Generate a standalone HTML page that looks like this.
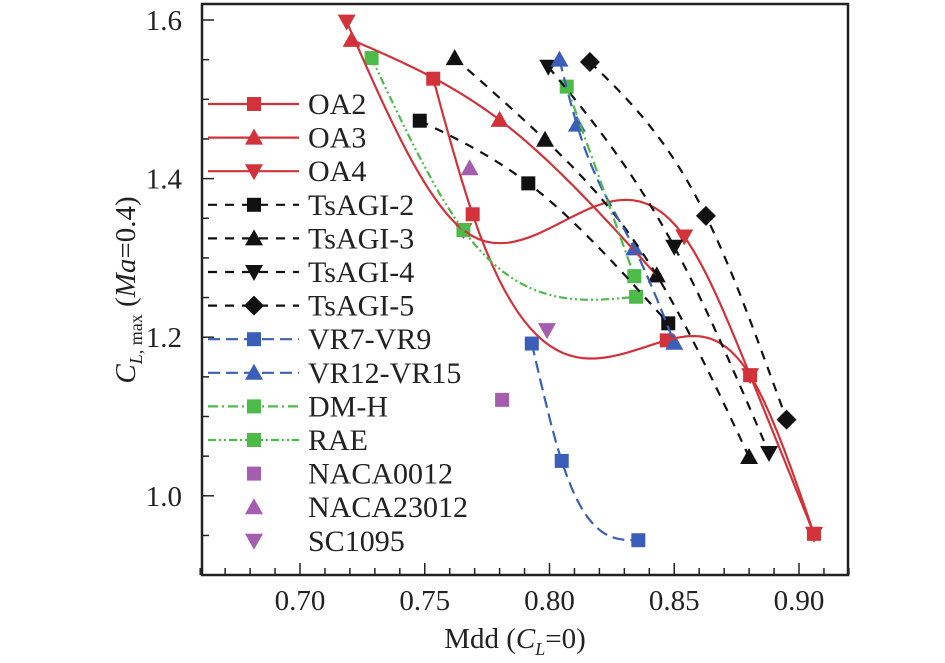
<!DOCTYPE html>
<html><head><meta charset="utf-8"><style>
html,body{margin:0;padding:0;background:#fff;}
svg{display:block;font-family:"Liberation Serif",serif;}
</style></head><body>
<svg id="chart" width="945" height="663" viewBox="0 0 945 663" xmlns="http://www.w3.org/2000/svg"></svg>
<script>
const xTicks=[0.70,0.75,0.80,0.85,0.90];
const xTickLabels=["0.70","0.75","0.80","0.85","0.90"];
const yTicks=[1.0,1.2,1.4,1.6];
const yTickLabels=["1.0","1.2","1.4","1.6"];
const seriesNames=["OA2","OA3","OA4","TsAGI-2","TsAGI-3","TsAGI-4","TsAGI-5","VR7-VR9","VR12-VR15","DM-H","RAE","NACA0012","NACA23012","SC1095"];
const oa2X=[0.7534,0.7692,0.847,0.8804,0.906], oa2Y=[1.526,1.355,1.196,1.152,0.952];
const oa3X=[0.7207,0.780,0.843], oa3Y=[1.575,1.474,1.278];
const oa4X=[0.7187,0.7655,0.854,0.8804,0.906], oa4Y=[1.598,1.335,1.327,1.152,0.952];
const ts2X=[0.748,0.7915,0.8476], ts2Y=[1.473,1.394,1.2175];
const ts3X=[0.762,0.7982,0.843,0.880], ts3Y=[1.552,1.449,1.278,1.049];
const ts4X=[0.7995,0.850,0.888], ts4Y=[1.541,1.314,1.054];
const ts5X=[0.8162,0.8627,0.895], ts5Y=[1.547,1.353,1.096];
const vr7X=[0.7929,0.8049,0.8356], vr7Y=[1.192,1.044,0.944];
const vr12X=[0.804,0.811,0.834,0.850], vr12Y=[1.550,1.468,1.312,1.193];
const dmhX=[0.8069,0.834], dmhY=[1.516,1.277];
const raeX=[0.7287,0.7655,0.8347], raeY=[1.552,1.335,1.251];
const naca0012X=[0.781], naca0012Y=[1.121];
const naca23012X=[0.768], naca23012Y=[1.413];
const sc1095X=[0.799], sc1095Y=[1.209];

const L=202,R=848,T=4,B=575;
const X0=0.70,PX0=300,PXS=2495;
const Y0=1.6,PY0=20,PYS=793;
function sx(v){return PX0+(v-X0)*PXS;}
function sy(v){return PY0+(Y0-v)*PYS;}
const NS="http://www.w3.org/2000/svg";
const svg=document.getElementById('chart');
function mk(tag,attrs,parent){const e=document.createElementNS(NS,tag);for(const k in attrs)e.setAttribute(k,attrs[k]);(parent||svg).appendChild(e);return e;}

const RED="#d2323a",BLK="#111",BLUE="#3b5fb9",GRN="#4dbb4a",PUR="#a55db0";
const styles=[
 {x:oa2X,y:oa2Y,c:RED,d:"",m:"sq"},
 {x:oa3X,y:oa3Y,c:RED,d:"",m:"tri"},
 {x:oa4X,y:oa4Y,c:RED,d:"",m:"dtri"},
 {x:ts2X,y:ts2Y,c:BLK,d:"9,8",m:"sq"},
 {x:ts3X,y:ts3Y,c:BLK,d:"9,8",m:"tri"},
 {x:ts4X,y:ts4Y,c:BLK,d:"9,8",m:"dtri"},
 {x:ts5X,y:ts5Y,c:BLK,d:"9,8",m:"dia"},
 {x:vr7X,y:vr7Y,c:BLUE,d:"12,6",m:"sq"},
 {x:vr12X,y:vr12Y,c:BLUE,d:"12,6",m:"tri"},
 {x:dmhX,y:dmhY,c:GRN,d:"10,4,2,4",m:"sq"},
 {x:raeX,y:raeY,c:GRN,d:"8,3,2,3,2,3",m:"sq"},
 {x:naca0012X,y:naca0012Y,c:PUR,d:null,m:"sq"},
 {x:naca23012X,y:naca23012Y,c:PUR,d:null,m:"tri"},
 {x:sc1095X,y:sc1095Y,c:PUR,d:null,m:"dtri"}
];

function spline(xs,ys){
 const n=xs.length;if(n<3){return xs.map((x,i)=>[sx(x),sy(ys[i])]);}
 const h=[],a=[],l=[1],mu=[0],z=[0],c=new Array(n).fill(0),b=[],d=[];
 for(let i=0;i<n-1;i++)h.push(xs[i+1]-xs[i]);
 for(let i=1;i<n-1;i++)a[i]=3/h[i]*(ys[i+1]-ys[i])-3/h[i-1]*(ys[i]-ys[i-1]);
 for(let i=1;i<n-1;i++){l[i]=2*(xs[i+1]-xs[i-1])-h[i-1]*mu[i-1];mu[i]=h[i]/l[i];z[i]=(a[i]-h[i-1]*z[i-1])/l[i];}
 for(let j=n-2;j>=0;j--){c[j]=(j>0?z[j]:0)-mu[j]*c[j+1];b[j]=(ys[j+1]-ys[j])/h[j]-h[j]*(c[j+1]+2*c[j])/3;d[j]=(c[j+1]-c[j])/(3*h[j]);}
 const pts=[];
 for(let j=0;j<n-1;j++){for(let k=0;k<=30;k++){const t=h[j]*k/30;const v=ys[j]+b[j]*t+c[j]*t*t+d[j]*t*t*t;pts.push([sx(xs[j]+t),sy(v)]);}}
 return pts;
}
function marker(m,cx,cy,c,parent){
 let e;
 if(m==="sq")e=mk('rect',{x:cx-7,y:cy-7,width:14,height:14,fill:c},parent);
 else if(m==="tri")e=mk('polygon',{points:`${cx},${cy-9} ${cx-9},${cy+7} ${cx+9},${cy+7}`,fill:c},parent);
 else if(m==="dtri")e=mk('polygon',{points:`${cx},${cy+9} ${cx-9},${cy-7} ${cx+9},${cy-7}`,fill:c},parent);
 else e=mk('polygon',{points:`${cx},${cy-10} ${cx+10},${cy} ${cx},${cy+10} ${cx-10},${cy}`,fill:c},parent);
 return e;
}

const frame=mk('rect',{x:L,y:T,width:R-L,height:B-T,fill:"none",stroke:"#222","stroke-width":2.5});



for(let v=0.66;v<=0.9201;v+=0.01){const px=sx(v);const major=Math.abs(v*100-Math.round(v*20)*5)<0.01;
 const t=mk('line',{x1:px,x2:px,y1:B,y2:B-(major?12:7),stroke:"#222","stroke-width":1.5});
 
 }
xTicks.forEach((v,i)=>{const t=mk('text',{x:sx(v),y:610,"text-anchor":"middle","font-size":29,fill:"#222"});t.textContent=xTickLabels[i];
 
 });
for(let k=0;k<=14;k++){const v=0.9+k*0.05;const py=sy(v);if(py<T+1)continue;const major=k%4===2;
 const t=mk('line',{x1:L,x2:L+(major?12:7),y1:py,y2:py,stroke:"#222","stroke-width":1.5});
 
 }
yTicks.forEach((v,i)=>{const t=mk('text',{x:182,y:sy(v)+10,"text-anchor":"end","font-size":29,fill:"#222"});t.textContent=yTickLabels[i];
 
 });

const xt=mk('text',{x:515,y:648,"text-anchor":"middle","font-size":29,fill:"#222"});
xt.innerHTML='Mdd (<tspan font-style="italic">C</tspan><tspan font-style="italic" font-size="18" dy="7">L</tspan><tspan dy="-7">=0)</tspan>';


const yt=mk('text',{x:0,y:0,"text-anchor":"middle","font-size":29,fill:"#222",transform:"translate(135,290) rotate(-90)"});
yt.innerHTML='<tspan font-style="italic">C</tspan><tspan font-style="italic" font-size="18" dy="7">L</tspan><tspan font-size="18">, max</tspan><tspan dy="-7"> (</tspan><tspan font-style="italic">Ma</tspan>=0.4)';



const plot=mk('g',{});


styles.forEach((s,i)=>{
 const g=mk('g',{},plot);
 
 
 if(s.d!==null && s.x.length>1){
  const pts=spline(s.x,s.y);
  const p=mk('polyline',{points:pts.map(q=>q[0].toFixed(1)+","+q[1].toFixed(1)).join(" "),fill:"none",stroke:s.c,"stroke-width":2.2});
  if(s.d)p.setAttribute('stroke-dasharray',s.d);
  
  
 }
 s.x.forEach((xv,j)=>{const e=marker(s.m,sx(xv),sy(s.y[j]),s.c,g);
  
  });
});

const leg=mk('g',{});


styles.forEach((s,i)=>{
 const y=104+i*33.6;
 const g=mk('g',{},leg);
 
 
 if(s.d!==null){const ln=mk('line',{x1:208,x2:299,y1:y,y2:y,stroke:s.c,"stroke-width":2.2},g);
  if(s.d)ln.setAttribute('stroke-dasharray',s.d);
  
  }
 const mm=marker(s.m,254,y,s.c,g);
 
 
 const t=mk('text',{x:308,y:y+10,"font-size":30,fill:"#222"},g);t.textContent=seriesNames[i];
 
 
});
</script>
</body></html>
